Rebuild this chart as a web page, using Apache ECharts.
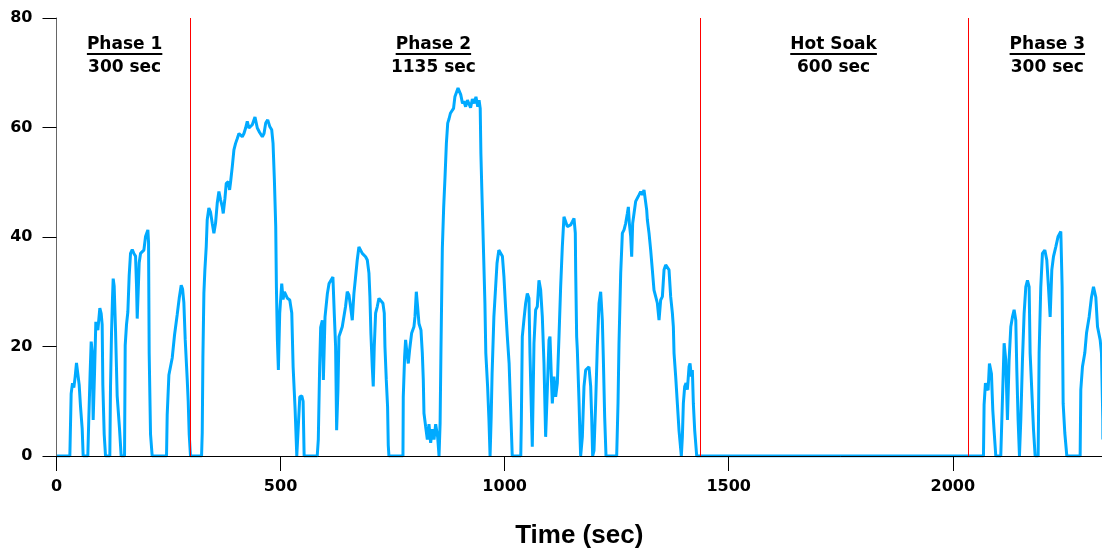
<!DOCTYPE html>
<html>
<head>
<meta charset="utf-8">
<script src="https://cdn.jsdelivr.net/npm/echarts@6/dist/echarts.min.js"></script>
<style>
  html, body { margin: 0; padding: 0; background: #fff; }
  #chart { width: 1102px; height: 553px; }
</style>
</head>
<body>
<div id="chart"></div>
<script>
// Vehicle speed (mph) against elapsed test time (s), taken at the turning points of the trace.
const phase1Sec = [0, 29.8, 32.7, 35.7, 38.7, 41.7, 44.6, 47.6, 50.6, 53.6, 57.3, 59.5, 69.9, 72, 75, 77.4, 79.6, 81.8, 84.8, 87.8, 92.3, 96.7, 99.7, 101.9, 103.4, 106.4, 109.4, 119, 120.5, 122.8, 125, 126.5, 128.7, 131.7, 135.4, 140.6, 144.3, 151.8, 153.3, 156.2, 159.2, 162.2, 165.2, 169, 172.6, 176.4, 178.6, 180.1, 182.3, 184.5, 187.5, 191.2, 195, 198.7, 203.9, 205.4, 206.8, 209.8, 213.5, 245.5, 247, 250.8, 258.2, 263.4, 269.3, 273.8, 278.3, 281.3, 284.2, 287.2, 291.7, 293.9, 296.1, 299];
const phase1Mph = [0, 0, 11.4, 13.3, 12.5, 14.5, 17, 15, 13, 9, 5, 0, 0, 6.6, 15, 20.9, 19, 6.6, 15, 24.5, 23, 27, 26, 24, 13, 4, 0, 0, 12.6, 22.6, 29, 32.4, 31, 23, 11, 5, 0, 0, 20.2, 24, 26.3, 33, 37, 37.7, 37, 36.5, 31, 25.1, 30, 35.3, 37, 37.3, 37.6, 40.1, 41.3, 39, 18.8, 4, 0, 0, 7.5, 14.8, 17.9, 22.1, 25.8, 28.8, 31.2, 30.5, 28, 21.3, 14, 10, 4, 0];

const phase2Sec = [300, 323.7, 325.2, 326.7, 328.9, 331.1, 334.1, 336.3, 340, 343.8, 347.5, 351.2, 354.9, 358.7, 362.4, 366.1, 369.9, 372.1, 375.8, 378.8, 383.3, 386.3, 388.4, 392.2, 395.9, 399.6, 403.4, 407.1, 410.8, 414.5, 418.3, 422, 425.7, 429.5, 433.2, 436.9, 442.9, 448.1, 453.3, 459.3, 463.1, 466.8, 471.3, 475.8, 480.2, 483.2, 486.2, 489.2, 490.7, 492.9, 495.1, 498.1, 502.6, 505.6, 508.6, 511.6, 515.3, 520.5, 525, 528, 532.5, 536.2, 539.9, 542.9, 547.4, 550.3, 552.6, 581.8, 584.2, 587.2, 589.5, 593.2, 595.5, 599.2, 604.5, 608.2, 616.8, 619.8, 622.8, 625.1, 628, 630.3, 634, 637.7, 641.2, 645, 648.8, 652.6, 656.2, 660, 663.7, 667.4, 671.1, 674.8, 677.1, 682.3, 689.7, 693.5, 697.2, 699.4, 701.6, 704.6, 706.8, 709.1, 712.1, 715.8, 719.5, 723.2, 728.4, 731.4, 732.9, 735.9, 738.8, 740.3, 741.8, 773.1, 773.8, 776.8, 779, 782, 785, 788, 792.4, 797.6, 799.9, 802.9, 805.8, 808.8, 813.3, 816.3, 818.5, 820, 823.7, 827.5, 831.2, 834.9, 838.6, 842.4, 846.1, 850.6, 853.6, 856, 858, 861, 864, 867, 870, 873, 876, 879, 882, 886, 889, 896, 902, 906, 909, 913, 917, 921, 924, 928, 932, 936, 940, 943, 945.5, 947, 949, 951, 953, 956, 958, 962, 965, 967.5, 970, 972, 976, 980, 983, 987, 991, 995, 998.5, 1002, 1006, 1010, 1013, 1017, 1036, 1037.2, 1039.4, 1043.2, 1046.9, 1050.6, 1054.3, 1056.5, 1059.5, 1061.7, 1065.5, 1069.2, 1072.9, 1076.6, 1080.4, 1084.1, 1087.8, 1091.5, 1095.2, 1099, 1101.2, 1104.2, 1106.4, 1110.1, 1113.8, 1117.6, 1121.3, 1125, 1128.7, 1132.4, 1136.2, 1139.9, 1143.6, 1147.3, 1151.1, 1154.8, 1157.7, 1158.5, 1160.7, 1162.2, 1165.9, 1168.2, 1169.6, 1173.4, 1177.1, 1180.8, 1184.5, 1188.2, 1192, 1194.2, 1196.4, 1199.4, 1203.1, 1206.8, 1210.6, 1214.3, 1218, 1220.2, 1223.2, 1226.2, 1250, 1253, 1255.2, 1259, 1262.7, 1266.4, 1270.1, 1273.8, 1276.1, 1278.3, 1281.3, 1283.5, 1285.7, 1288.7, 1292.4, 1296.1, 1299.9, 1303.6, 1307.3, 1311, 1314.7, 1317, 1318.5, 1322.2, 1325.9, 1329.6, 1333.3, 1337.1, 1340.8, 1344.5, 1348.2, 1352, 1355.7, 1359.4, 1363.1, 1366.8, 1370.5, 1374.3, 1376.5, 1378, 1381.7, 1385.4, 1389.1, 1394.3, 1396.6, 1398.8, 1401.8, 1404.8, 1407.7, 1411.5, 1413.7, 1416.7, 1418.9, 1421.1, 1424.1, 1428.6, 1435];
const phase2Mph = [0, 0, 4.2, 18, 29.7, 34, 38.2, 43.1, 45.3, 44.5, 42.5, 40.7, 42.5, 46.2, 48.3, 46.8, 45.5, 44.3, 47, 49.8, 50.1, 48.6, 50, 52.8, 55.9, 57.1, 58, 58.9, 59.2, 58.3, 58.9, 59.9, 61.1, 59.9, 59.6, 60.5, 61.9, 59.9, 59.1, 58.3, 58.9, 60.8, 61.4, 60.2, 59.6, 57.1, 50.4, 41.9, 30.9, 21.2, 15.7, 26.1, 31.5, 28.6, 30, 29.7, 28.8, 28.5, 26.1, 16.3, 8.4, 0, 0, 10.8, 11, 10, 0, 0, 3, 16.3, 23.5, 24.8, 13.9, 25.4, 29.7, 31.5, 32.7, 26.1, 20, 4.7, 12, 21.8, 22.7, 23.6, 25.4, 27.3, 30, 29.4, 27.3, 24.8, 29.7, 32.7, 35.8, 38.2, 38.5, 37, 36.4, 35.8, 33.4, 29.1, 22.4, 16.3, 12.7, 20, 26.1, 27.3, 28.8, 29.1, 27.9, 26.1, 20, 13.9, 9, 2, 0, 0, 10.8, 18.1, 21.2, 18.8, 16.9, 19.4, 22.4, 23.6, 25.4, 30, 27.3, 24.2, 23, 18.8, 13.9, 7.8, 5.4, 3, 5.8, 2.4, 4.9, 3, 5.8, 3.4, 0, 6, 20, 38, 45.5, 51, 57.1, 60.8, 61.6, 62.6, 62.3, 63.5, 65.6, 67.2, 66, 64.4, 64.8, 63.8, 65, 64.2, 63.6, 65.2, 64.4, 65.6, 63.8, 65, 63.5, 55.3, 49, 43.1, 37, 27.9, 18.8, 12.7, 6.6, 0, 7.2, 15, 25.4, 31, 35.2, 37.6, 37.8, 36.5, 32.7, 27.3, 21.8, 16.9, 9.6, 0, 0, 6, 21.8, 25, 27.9, 29.7, 28.8, 18.8, 9, 1.7, 20.6, 26.7, 27.3, 32.1, 30.3, 25.4, 16.9, 3.5, 12, 21.2, 21.8, 14.5, 9.6, 14.5, 10.8, 13.3, 21.8, 30.9, 38.2, 43.7, 43.4, 41.9, 42.2, 42.2, 42.8, 43.4, 40.7, 34, 21.8, 19.4, 10.2, 3.5, 0, 3.5, 12.7, 15.7, 16, 16.3, 12.7, 7.2, 0, 1, 9.6, 20, 27.9, 30, 24.8, 18, 7.2, 0, 0, 9.6, 20.6, 33.4, 40.7, 41.3, 42.5, 44.3, 45.5, 42.5, 40.1, 36.4, 42.5, 44.3, 46.5, 46.8, 47.7, 48.3, 47.7, 48.6, 48.9, 44.9, 43.1, 40.7, 37.6, 34, 30.3, 29.1, 27.9, 24.8, 28.5, 29.1, 34, 34.9, 35.2, 34, 29.1, 26.1, 23.6, 18.8, 14.5, 9.6, 4.7, 0, 3.5, 9.6, 12.7, 13.3, 12.1, 16.3, 16.9, 14.5, 15.7, 9.6, 4.7, 0, 0];

const soakSec = [1435, 2035];
const soakMph = [0, 0];

const phase3Sec = [2035, 2068.5, 2069.9, 2072.9, 2075.9, 2078.9, 2081.8, 2086.3, 2089.3, 2092.3, 2096, 2107.1, 2110.9, 2114.6, 2118.3, 2122, 2125.7, 2129.5, 2133.2, 2136.9, 2140.6, 2142.9, 2145.8, 2148.8, 2151.8, 2155.5, 2159.2, 2163, 2166.7, 2170.4, 2172.6, 2175.6, 2180.1, 2183.8, 2190.5, 2192.7, 2196.4, 2200.1, 2205.4, 2209.8, 2213.5, 2217.3, 2221, 2224.7, 2229.9, 2235.1, 2241.1, 2244, 2246.3, 2250, 2254.5, 2284.2, 2285.7, 2289.4, 2294.6, 2298.4, 2304.3, 2309.5, 2314, 2317, 2319.2, 2323, 2328.9, 2331.8, 2334.8, 2335];
const phase3Mph = [0, 0, 9.4, 13.3, 12.5, 12, 16.9, 15, 8.4, 4.5, 0, 0, 10.5, 20.6, 17.5, 6.6, 17.5, 23.6, 25.4, 26.7, 24.8, 15.7, 6.6, 0, 6.6, 17.5, 26, 30.9, 32.1, 30.9, 18.8, 13.3, 4.9, 0, 0, 18.8, 30.9, 37, 37.6, 35.8, 30.9, 25.4, 34, 36.4, 38.2, 40.1, 41, 30.9, 9.6, 4.2, 0, 0, 12.1, 16.3, 18.8, 22.4, 25.4, 29, 30.9, 30.9, 29, 23.6, 21.2, 18.8, 6.6, 3];

// Phase boundaries and the annotations above each phase
const phaseBoundarySec = [300, 1435, 2035];
const phaseNames = ['Phase 1', 'Phase 2', 'Hot Soak', 'Phase 3'];
const phaseDurationSec = [300, 1135, 600, 300];

// Axis ticks
const xTickValues = [0, 500, 1000, 1500, 2000];
const xMaxSec = 2333;
const yMaxMph = 80;

// Horizontal anchor (in seconds) of each phase caption
const captionAnchorSec = [152, 841, 1734, 2211];

const lineData = [];
[[phase1Sec, phase1Mph], [phase2Sec, phase2Mph], [soakSec, soakMph], [phase3Sec, phase3Mph]]
  .forEach(([ts, vs]) => ts.forEach((t, i) => lineData.push([t, vs[i]])));

const tickFont = { fontFamily: 'DejaVu Sans', fontWeight: 'bold', fontSize: 16, color: '#000' };

const chart = echarts.init(document.getElementById('chart'), null, { renderer: 'canvas' });
chart.setOption({
  animation: false,
  backgroundColor: '#fff',
  grid: { left: 56.5, right: 0, top: 18, bottom: 97, outerBoundsMode: 'none' },
  xAxis: {
    type: 'value', min: 0, max: xMaxSec, interval: 500, z: 3,
    name: 'Time (sec)', nameLocation: 'middle', nameGap: 67,
    nameTextStyle: { fontFamily: 'Liberation Sans', fontWeight: 'bold', fontSize: 26, color: '#000' },
    axisLine: { show: true, lineStyle: { color: '#000', width: 1 } },
    axisTick: { show: true, length: 15, customValues: xTickValues, lineStyle: { color: '#000' } },
    axisLabel: Object.assign({ margin: 23, customValues: xTickValues, formatter: v => String(v) }, tickFont),
    splitLine: { show: false }
  },
  yAxis: {
    type: 'value', min: 0, max: yMaxMph, interval: 20, z: 3,
    axisLine: { show: true, lineStyle: { color: '#666', width: 1 } },
    axisTick: { show: true, length: 14, lineStyle: { color: '#000' } },
    axisLabel: Object.assign({ margin: 24, formatter: v => String(v) }, tickFont),
    splitLine: { show: false }
  },
  series: [{
    type: 'line',
    data: lineData,
    symbol: 'none',
    showSymbol: false,
    z: 2,
    lineStyle: { color: '#00aaff', width: 3 },
    emphasis: { disabled: true }
  }]
});

const graphics = [];

// Red phase boundaries, placed through the x axis scale and snapped to an even pixel column
// so the thin red stroke stays crisp
const yTop = chart.convertToPixel({ yAxisIndex: 0 }, yMaxMph);
const yBottom = chart.convertToPixel({ yAxisIndex: 0 }, 0);
phaseBoundarySec.forEach(t => {
  const px = Math.round(chart.convertToPixel({ xAxisIndex: 0 }, t) / 2) * 2 + 0.5;
  graphics.push({
    type: 'line', silent: true, z: 10,
    shape: { x1: px, y1: yTop, x2: px, y2: yBottom },
    style: { stroke: '#ff0000', lineWidth: 1 }
  });
});

// Phase captions: underlined name with its duration underneath
const captionFont = 'bold 17px "DejaVu Sans"';
const ctx = document.createElement('canvas').getContext('2d');
ctx.font = captionFont;
phaseNames.forEach((name, i) => {
  const cx = chart.convertToPixel({ xAxisIndex: 0 }, captionAnchorSec[i]);
  const w = ctx.measureText(name).width;
  graphics.push({
    type: 'text', x: cx, y: 45, silent: true,
    style: { text: name, font: captionFont, fill: '#000', align: 'center', verticalAlign: 'middle' }
  });
  graphics.push({
    type: 'line', silent: true,
    shape: { x1: cx - w / 2, y1: 54, x2: cx + w / 2, y2: 54 },
    style: { stroke: '#000', lineWidth: 2 }
  });
  graphics.push({
    type: 'text', x: cx, y: 67.5, silent: true,
    style: { text: phaseDurationSec[i] + ' sec', font: captionFont, fill: '#000', align: 'center', verticalAlign: 'middle' }
  });
});
chart.setOption({ graphic: graphics });
</script>
</body>
</html>
